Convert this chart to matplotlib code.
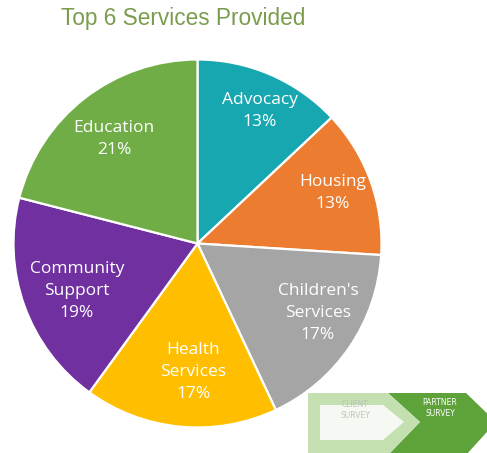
import matplotlib
matplotlib.use("Agg")
import matplotlib.pyplot as plt
from matplotlib.patches import Polygon

# services and their shares (%), clockwise from 12 o'clock
services = ["Advocacy", "Housing", "Children's\nServices", "Health\nServices",
            "Community\nSupport", "Education"]
shares = [13, 13, 17, 17, 19, 21]
colors = ["#17A7B0", "#EC7C30", "#A5A5A5", "#FFBF00", "#7030A0", "#70AD47"]

# label centres inside the unit pie
label_xy = [(0.34, 0.72), (0.736, 0.274), (0.655, -0.378),
            (-0.024, -0.698), (-0.655, -0.258), (-0.454, 0.568)]

W, H = 487, 453
fig = plt.figure(figsize=(W / 100, H / 100), dpi=100)
fig.patch.set_facecolor("white")

R = 184
cx, cy = 197.5, 243.5
ax = fig.add_axes([(cx - R) / W, (H - cy - R) / H, 2 * R / W, 2 * R / H])
ax.pie(shares, colors=colors, startangle=90, counterclock=False, radius=1,
       wedgeprops=dict(edgecolor="white", linewidth=1.6))
ax.set_xlim(-1.0, 1.0)
ax.set_ylim(-1.0, 1.0)
ax.set_aspect("equal")
ax.axis("off")

for name, pct, (x, y) in zip(services, shares, label_xy):
    ax.text(x, y, "{}\n{}%".format(name, pct), ha="center", va="center",
            color="white", fontsize=12.5, family="Open Sans",
            linespacing=1.5)

fig.text(61 / W, 1 - 19 / H, "Top 6 Services Provided", ha="left", va="center",
         color="#7A9C4D", fontsize=16.3, family="Liberation Sans")

# survey navigation arrows, bottom right
def px(pts):
    return [(x / W, 1 - y / H) for x, y in pts]

partner = Polygon(px([(388, 393), (466, 393), (496, 422), (466, 455),
                      (388, 455), (420, 422)]),
                  closed=True, facecolor="#5EA33A", edgecolor="none",
                  transform=fig.transFigure)
client = Polygon(px([(308, 393), (388, 393), (420, 422), (388, 455),
                     (308, 455)]),
                 closed=True, facecolor="#C4E0B0", edgecolor="none",
                 transform=fig.transFigure)
client_in = Polygon(px([(320, 405), (383, 405), (404, 422), (383, 440),
                        (320, 440)]),
                    closed=True, facecolor="#F6F9F3", edgecolor="none",
                    transform=fig.transFigure)
for p in (partner, client, client_in):
    fig.patches.append(p)

fig.text(355 / W, 1 - 410 / H, "CLIENT\nSURVEY", ha="center", va="center",
         color="#BFC4BA", fontsize=5.5, family="Liberation Sans Narrow",
         linespacing=1.2)
fig.text(440 / W, 1 - 408 / H, "PARTNER\nSURVEY", ha="center", va="center",
         color="white", fontsize=5.5, family="Liberation Sans Narrow",
         linespacing=1.2)

fig.savefig("out.png", dpi=100, facecolor="white")
